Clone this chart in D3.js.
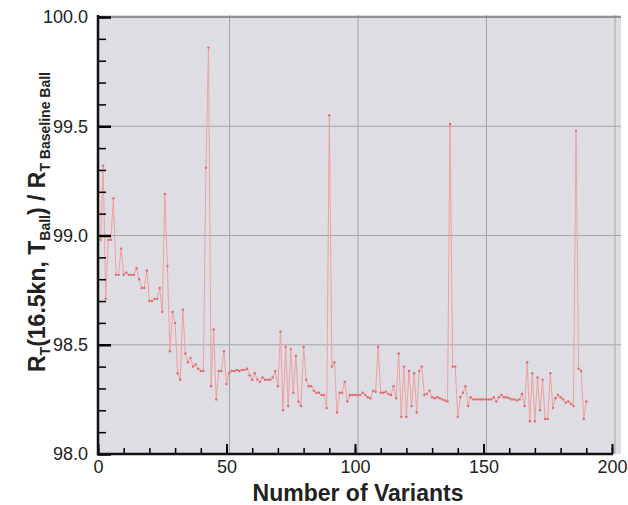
<!DOCTYPE html>
<html>
<head>
<meta charset="utf-8">
<script src="https://cdn.jsdelivr.net/npm/d3@7"></script>
<style>
  body { margin: 0; background: #fff; }
  svg { display: block; }
</style>
</head>
<body>
<div id="chart"></div>
<script>
// ratio values, variant 1 .. 190
const ratio1 = [98.98, 99.32, 98.71, 98.98, 98.98, 99.17, 98.82, 98.82, 98.94, 98.82,
                98.83, 98.82, 98.82, 98.82, 98.85, 98.80, 98.76, 98.76, 98.84, 98.70,
                98.70, 98.71, 98.71, 98.76, 98.65, 99.19, 98.86, 98.47, 98.65, 98.60,
                98.37, 98.34, 98.66, 98.46, 98.42, 98.44, 98.40, 98.41, 98.39, 98.38,
                98.38, 99.31, 99.86, 98.31, 98.57, 98.25, 98.38, 98.38, 98.47, 98.32];
const ratio2 = [98.37, 98.38, 98.38, 98.385, 98.38, 98.385, 98.385, 98.39, 98.36, 98.34,
                98.37, 98.34, 98.33, 98.35, 98.34, 98.34, 98.34, 98.35, 98.38, 98.31,
                98.56, 98.20, 98.49, 98.22, 98.48, 98.28, 98.45, 98.24, 98.22, 98.49,
                98.34, 98.31, 98.31, 98.29, 98.28, 98.28, 98.27, 98.27, 98.21, 99.55,
                98.40, 98.42, 98.19, 98.28, 98.28, 98.33, 98.24, 98.27, 98.27, 98.27];
const ratio3 = [98.27, 98.27, 98.28, 98.27, 98.26, 98.255, 98.29, 98.285, 98.49, 98.28,
                98.28, 98.285, 98.275, 98.27, 98.31, 98.255, 98.46, 98.17, 98.40, 98.17,
                98.38, 98.22, 98.37, 98.19, 98.38, 98.40, 98.27, 98.275, 98.29, 98.26,
                98.255, 98.26, 98.255, 98.25, 98.245, 98.24, 99.51, 98.40, 98.40, 98.17,
                98.26, 98.28, 98.31, 98.22, 98.26, 98.25, 98.25, 98.25, 98.25, 98.25];
const ratio4 = [98.25, 98.25, 98.25, 98.26, 98.24, 98.26, 98.27, 98.26, 98.26, 98.255,
                98.25, 98.25, 98.245, 98.25, 98.275, 98.22, 98.42, 98.15, 98.37, 98.15,
                98.35, 98.20, 98.34, 98.16, 98.16, 98.37, 98.21, 98.255, 98.27, 98.26,
                98.25, 98.235, 98.24, 98.23, 98.22, 99.48, 98.39, 98.38, 98.16, 98.24];
const ratios = ratio1.concat(ratio2, ratio3, ratio4);

const xTicks = [0, 50, 100, 150, 200];
const yTicks = [98.0, 98.5, 99.0, 99.5, 100.0];

const width = 628, height = 505;
const margin = {left: 98, right: 16, top: 17, bottom: 51};

const svg = d3.select("#chart").append("svg")
    .attr("width", width)
    .attr("height", height)
    .style("font-family", "Liberation Sans, Arial, sans-serif");

const x = d3.scaleLinear().domain([0, 200]).range([margin.left, 612]);
const y = d3.scaleLinear().domain([98, 100]).range([454, margin.top]);

// gray plotting area
svg.append("rect")
    .attr("x", x(0))
    .attr("y", y(100) - 2)
    .attr("width", 621 - x(0))
    .attr("height", y(98) - y(100) + 2)
    .attr("fill", "#dddde3");

// grid
svg.append("g")
    .selectAll("line")
    .data(xTicks.slice(1))
    .join("line")
    .attr("x1", d => x(d) + 3).attr("x2", d => x(d) + 3)
    .attr("y1", y(100) - 2).attr("y2", y(98))
    .attr("stroke", "#a4a4aa")
    .attr("stroke-width", 1);

svg.append("g")
    .selectAll("line")
    .data(yTicks.slice(1))
    .join("line")
    .attr("x1", x(0)).attr("x2", 621)
    .attr("y1", d => y(d)).attr("y2", d => y(d))
    .attr("stroke", d => d === 100 ? "#77777c" : "#a4a4aa")
    .attr("stroke-width", d => d === 100 ? 1.5 : 1);

// series
const pts = ratios.map((v, i) => ({n: i + 1, v: v}));

svg.append("path")
    .datum(pts)
    .attr("fill", "none")
    .attr("stroke", "#f0a0a0")
    .attr("stroke-width", 1)
    .attr("d", d3.line().x(d => x(d.n)).y(d => y(d.v)));

svg.append("g")
    .selectAll("circle")
    .data(pts)
    .join("circle")
    .attr("cx", d => x(d.n))
    .attr("cy", d => y(d.v))
    .attr("r", 1.2)
    .attr("fill", "#e26a6a");

// axes (ticks pointing inside)
const yMinor = d3.range(98, 100.001, 0.1);
const xMinor = d3.range(0, 201, 10);

svg.append("g")
    .attr("transform", `translate(${x(0)},0)`)
    .call(d3.axisLeft(y).tickValues(yMinor).tickSize(-8).tickFormat(""))
    .call(g => g.select(".domain").remove())
    .selectAll("line").attr("stroke-width", 1.5);

const gy = svg.append("g")
    .attr("transform", `translate(${x(0)},0)`)
    .call(d3.axisLeft(y).tickValues(yTicks).tickSize(-13).tickPadding(10).tickFormat(d3.format(".1f")))
    .call(g => g.select(".domain").remove());
gy.selectAll("line").attr("stroke-width", 2.5);
gy.selectAll("text").attr("font-size", 18).attr("fill", "#222");

svg.append("g")
    .attr("transform", `translate(0,${y(98)})`)
    .call(d3.axisBottom(x).tickValues(xMinor).tickSize(-6).tickFormat(""))
    .call(g => g.select(".domain").remove())
    .selectAll("line").attr("stroke-width", 1.5);

const gx = svg.append("g")
    .attr("transform", `translate(0,${y(98)})`)
    .call(d3.axisBottom(x).tickValues(xTicks).tickSize(-10).tickPadding(6).tickFormat(d3.format("d")))
    .call(g => g.select(".domain").remove());
gx.selectAll("line").attr("stroke-width", 2);
gx.selectAll("text").attr("font-size", 18).attr("fill", "#222");

// axis lines
svg.append("line")
    .attr("x1", x(0)).attr("x2", x(0))
    .attr("y1", y(100) - 2).attr("y2", y(98) + 1.5)
    .attr("stroke", "#111").attr("stroke-width", 2.5);
svg.append("line")
    .attr("x1", x(0)).attr("x2", x(200) + 1)
    .attr("y1", y(98)).attr("y2", y(98))
    .attr("stroke", "#111").attr("stroke-width", 2.5);

// titles
svg.append("text")
    .attr("x", (x(0) + x(200)) / 2 + 3)
    .attr("y", 501)
    .attr("text-anchor", "middle")
    .attr("font-size", 23)
    .attr("font-weight", "bold")
    .attr("fill", "#222")
    .text("Number of Variants");

const yt = svg.append("text")
    .attr("transform", "translate(45,222) rotate(-90)")
    .attr("text-anchor", "middle")
    .attr("font-size", 23)
    .attr("font-weight", "bold")
    .attr("fill", "#222");
yt.append("tspan").text("R");
yt.append("tspan").attr("font-size", 14).attr("dy", 5).text("T");
yt.append("tspan").attr("dy", -5).text("(16.5kn, T");
yt.append("tspan").attr("font-size", 14).attr("dy", 5).text("Ball");
yt.append("tspan").attr("dy", -5).text(") / R");
yt.append("tspan").attr("font-size", 14).attr("dy", 5).text("T Baseline Ball");
</script>
</body>
</html>
